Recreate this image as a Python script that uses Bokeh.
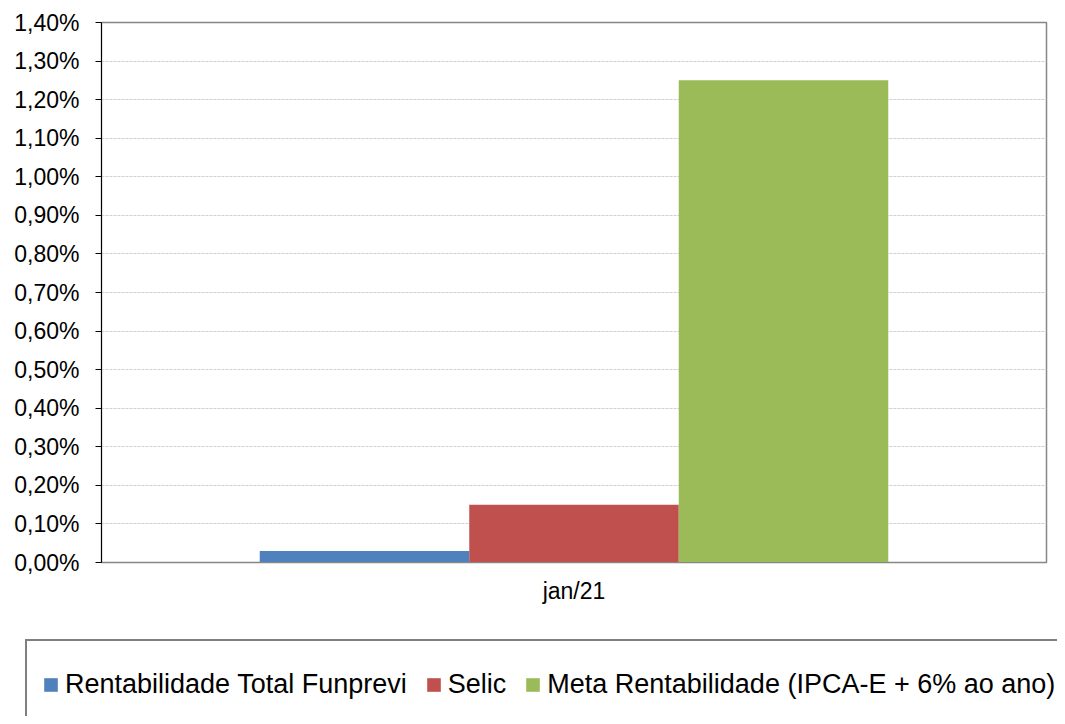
from bokeh.plotting import figure
from bokeh.layouts import column
from bokeh.models import (FactorRange, Legend, LegendItem, CustomJSTickFormatter,
                          ColumnDataSource, FixedTicker)
from bokeh.transform import dodge
from bokeh.embed import file_html
from bokeh.resources import INLINE

# ---- data ----
categories = ["jan/21"]
series_names = ["Rentabilidade Total Funprevi", "Selic",
                "Meta Rentabilidade (IPCA-E + 6% ao ano)"]
funprevi = [0.03]
selic = [0.15]
meta = [1.25]
colors = ["#4F81BD", "#C0504D", "#9BBB59"]
y_ticks = [0.0, 0.1, 0.2, 0.3, 0.4, 0.5, 0.6, 0.7, 0.8, 0.9, 1.0, 1.1, 1.2, 1.3, 1.4]

FONT = "Liberation Sans"
W = 1057

src = ColumnDataSource(dict(cat=categories, funprevi=funprevi, selic=selic, meta=meta))

p = figure(x_range=FactorRange(*categories, range_padding=0), y_range=(0, 1.4),
           width=W, height=637, output_backend="svg", toolbar_location=None,
           min_border_left=101, min_border_right=11, min_border_top=22,
           min_border_bottom=75, frame_align=False)

bw = 0.2217
cols = ["funprevi", "selic", "meta"]
offsets = [-bw, 0.0, bw]
for col, off, c in zip(cols, offsets, colors):
    p.vbar(x=dodge("cat", off, range=p.x_range), top=col, width=bw, bottom=0,
           source=src, fill_color=c, line_color=None)

# axes
p.yaxis.ticker = FixedTicker(ticks=y_ticks)
p.yaxis.formatter = CustomJSTickFormatter(
    code="return tick.toFixed(2).replace('.', ',') + '%';")
p.yaxis.major_label_text_font = FONT
p.yaxis.major_label_text_font_size = "23px"
p.yaxis.major_label_text_color = "#000000"
p.yaxis.major_label_standoff = 16
p.yaxis.axis_line_color = "#000000"
p.yaxis.major_tick_line_color = "#000000"
p.yaxis.major_tick_out = 6
p.yaxis.major_tick_in = 0
p.yaxis.minor_tick_line_color = None

p.xaxis.major_label_text_font = FONT
p.xaxis.major_label_text_font_size = "23px"
p.xaxis.major_label_text_color = "#000000"
p.xaxis.major_label_standoff = 9
p.xaxis.axis_line_color = "#868686"
p.xaxis.major_tick_line_color = None
p.xaxis.minor_tick_line_color = None

p.xgrid.visible = False
p.ygrid.grid_line_color = "#d0d0d0"
p.ygrid.grid_line_dash = "3 1"
p.ygrid.grid_line_width = 1

p.outline_line_color = "#868686"
p.outline_line_width = 1.5
p.background_fill_color = "white"
p.border_fill_color = "white"

# ---- legend panel (separate canvas so the box is not clipped by the chart frame) ----
lg = figure(width=W, height=79, output_backend="svg", toolbar_location=None,
            min_border_left=0, min_border_right=0, min_border_top=0, min_border_bottom=0,
            x_range=FactorRange(*categories), y_range=(0, 1.4), frame_align=False)
lg.axis.visible = False
lg.grid.visible = False
lg.outline_line_color = None
lg.border_fill_color = "white"
lg_renderers = []
for col, off, c in zip(cols, offsets, colors):
    r = lg.vbar(x=dodge("cat", off, range=lg.x_range), top=col, width=bw, bottom=0,
                source=src, fill_color=c, line_color=None, visible=False)
    lg_renderers.append(r)

items = [LegendItem(label=n, renderers=[r]) for n, r in zip(series_names, lg_renderers)]
legend = Legend(items=items, orientation="horizontal", location=(25, -13),
                label_text_font=FONT, label_text_font_size="27px",
                label_text_color="#000000",
                glyph_width=17, glyph_height=17, label_standoff=6, spacing=18,
                padding=15, label_height=56, margin=0,
                border_line_color="#000000", border_line_width=2,
                background_fill_color="white", background_fill_alpha=1.0,
                inactive_fill_alpha=0.0)
lg.add_layout(legend, "center")

layout = column(p, lg, spacing=0)
open("out.html", "w").write(file_html(layout, INLINE))
